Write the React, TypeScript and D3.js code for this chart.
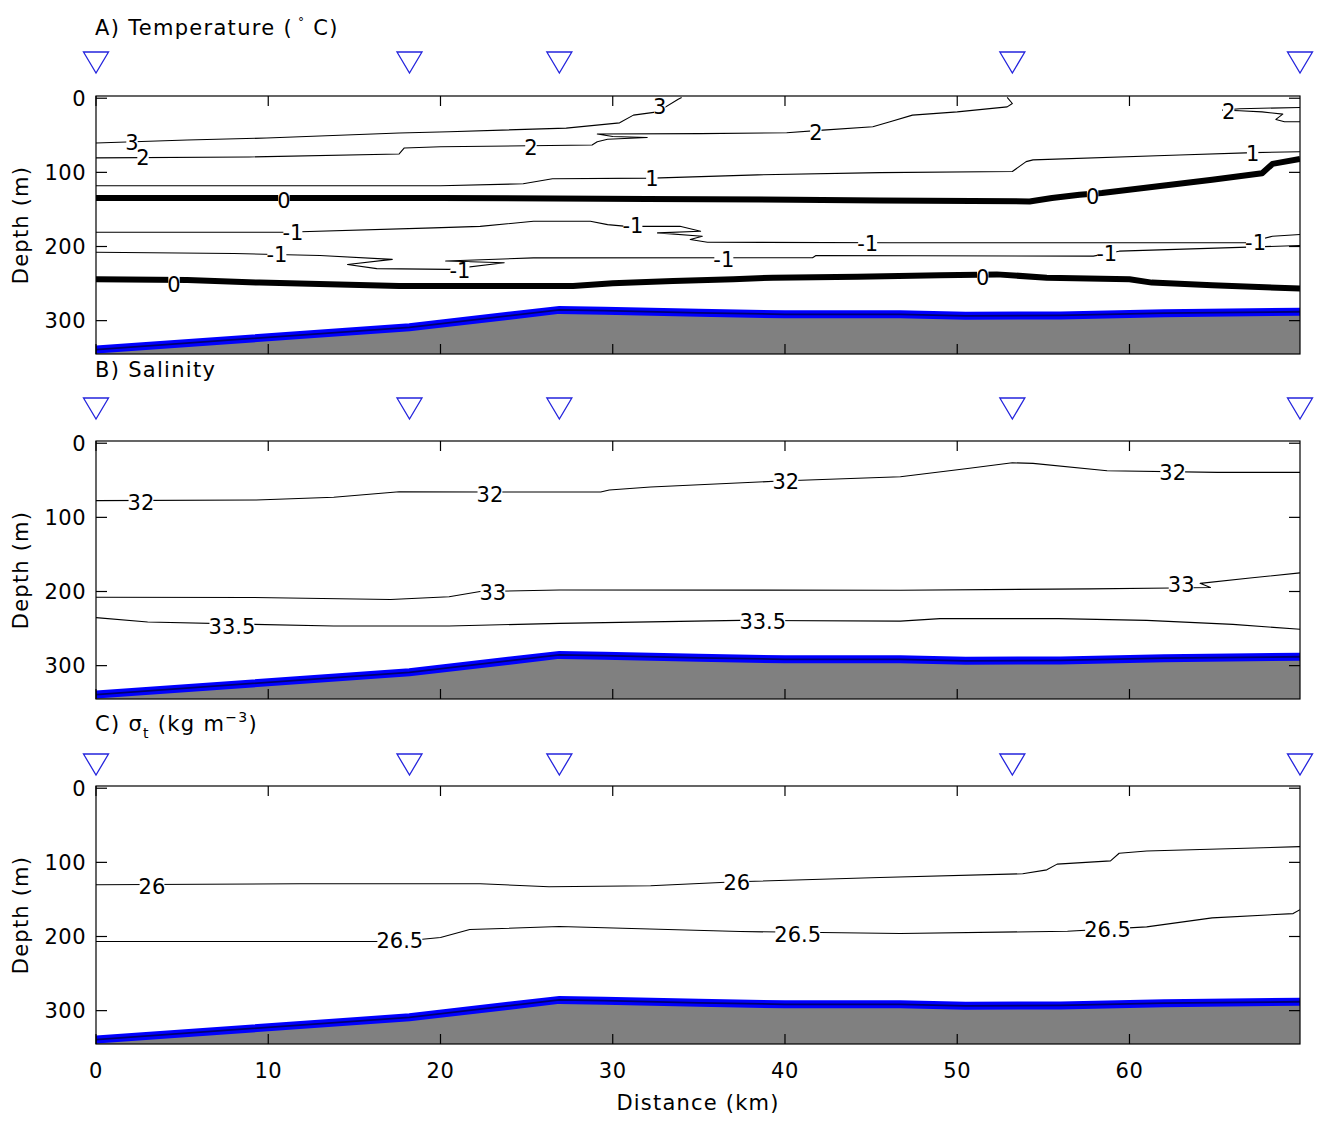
import React from 'react';
import * as d3 from 'd3';

const W = 1317, H = 1121;
const X0 = 96, X1 = 1300;
const KM_MAX = 69.9;
const DEPTH_MIN = -3, DEPTH_MAX = 345;
const PANEL_H = 258;
const panelTops = [96, 441, 786];
const triangleTops = [52, 398, 754];
const titleBaselines = [35, 377, 731];

const FONT = "'DejaVu Sans', Arial, sans-serif";

const xTicks = [0, 10, 20, 30, 40, 50, 60];
const yTicks = [0, 100, 200, 300];
const stations = [0, 18.2, 26.9, 53.2, 69.9];

// Bathymetry (distance km, depth m)
const bathyKm = [0, 18.2, 26.9, 29.5, 35, 40, 46.7, 50.5, 56, 62, 69.9];
const bathyDepth = [339, 309, 285.5, 286.5, 289.5, 291.5, 291.5, 293.5, 293, 290, 288];

// ---- A) Temperature contours [km, depth]
const temp3 = [[0, 60.4], [5.3, 56.4], [9.9, 53.7], [17.6, 47], [20.5, 45.2], [27.3, 40.3], [30.4, 33.2], [31.2, 22.8], [32.6, 18.4], [33.8, 1.3], [34.0, -1]];
const temp2a = [[0, 80.5], [8.9, 79.2], [17.6, 75.2], [17.9, 67.1], [20, 65.4], [28.8, 63.1], [29.1, 58.7], [29.7, 55.4], [32, 53], [30, 51.7], [29.1, 48.3], [35.1, 47.7], [40.1, 46.6], [42.2, 43], [45.1, 38.5], [46.1, 31.8], [47.4, 22.8], [50, 18.4], [52.9, 11.7], [53.2, 7.1], [52.9, -1]];
const temp2b = [[69.9, 12.5], [66.4, 14.1], [65.4, 16.1], [66.4, 16.8], [67.7, 18.4], [68.9, 21.5], [68.5, 28.6], [69, 31.8], [69.9, 31.8]];
const temp1 = [[0, 118.1], [20, 118.1], [24.8, 115.4], [26.5, 108.7], [32.3, 107.8], [38.4, 103.4], [45.5, 100.3], [53.2, 98.9], [54, 85.5], [54.4, 83.2], [62.9, 76.5], [67.2, 73.4], [69.9, 72.1]];
const temp0a = [[0, 134.6], [20, 134.6], [32, 136], [40.5, 136.9], [45.5, 137.9], [54.2, 139.2], [55.5, 134.6], [57.1, 130.2], [58.4, 127.9], [64.8, 110.1], [67.7, 101.1], [68.3, 88.6], [69.9, 81.9]];
const tempM1a = [[0, 180.8], [10.9, 180.8], [19.6, 174.9], [22.3, 172.8], [25.4, 166], [28.7, 166], [29.7, 170.5], [30.8, 172.8], [33.9, 172.8], [35.1, 179.5], [32.6, 181.6], [35.2, 186.2], [34.5, 190.6], [35.5, 194.2], [46.1, 195], [66.8, 195], [68.3, 186.2], [69.9, 183.9]];
const tempM1b = [[0, 207.7], [8, 209.4], [13, 212.1], [17.2, 217.4], [14.6, 224.2], [16.3, 229.9], [20.5, 230.9], [23.7, 221.9], [20.3, 219.5], [25.4, 215.4], [41.6, 215.2], [41.8, 212.1], [57.9, 213], [59.4, 206.3], [69.9, 198.7]];
const temp0b = [[0, 244.3], [5.3, 245.2], [9.5, 248.7], [17.6, 253.3], [27.7, 253.3], [30, 249.7], [33.5, 246.6], [37, 244.3], [39.3, 242], [44.2, 240.7], [49, 238.9], [52.3, 237.6], [55.2, 242], [60, 244.3], [61.3, 248.7], [64.8, 252.3], [69.9, 256.8]];

const tempLabels = [
  ['3', 2.09, 59.1], ['2', 2.73, 79.3], ['3', 32.73, 11.2], ['2', 25.25, 65.8], ['2', 41.79, 45.6], ['2', 65.76, 17.3],
  ['1', 32.27, 107.6], ['1', 67.15, 73.9], ['0', 10.91, 137.3], ['0', 57.86, 131.9], ['0', 4.53, 250.6], ['0', 51.48, 241.8],
  ['-1', 11.43, 180.5], ['-1', 10.5, 210.1], ['-1', 31.17, 171], ['-1', 21.13, 231.7], ['-1', 36.45, 216.9], ['-1', 44.8, 195.3],
  ['-1', 58.68, 208.8], ['-1', 67.32, 193.9],
];

// ---- B) Salinity contours
const sal32 = [[0, 77.4], [9.3, 76.5], [13.8, 72.9], [17.6, 65.4], [22.9, 65.8], [29.3, 65.8], [29.8, 63], [32.2, 59], [39.7, 51], [46.7, 45.2], [50.6, 34], [53.2, 26.4], [54.4, 27.2], [58.7, 37.2], [65.1, 39.3], [69.9, 39.3]];
const sal33 = [[0, 207.7], [8.9, 208], [17.1, 210.7], [20.5, 207.1], [22.3, 200], [26.9, 198], [46.7, 198.3], [57.7, 196.4], [62.5, 195.2], [64.7, 194.6], [64.1, 189], [67, 181.8], [69.9, 174.9]];
const sal335 = [[0, 235.3], [3, 241.2], [13.8, 246.6], [20.5, 246.6], [26.9, 243], [37.4, 239], [46.7, 239.9], [49, 236.6], [55.9, 236.6], [61, 238.9], [66, 244.3], [69.9, 251]];
const salLabels = [
  ['32', 2.61, 80], ['32', 22.87, 68.5], ['32', 40.05, 51.0], ['32', 62.51, 39.0],
  ['33', 23.04, 201.1], ['33', 63.0, 189.9], ['33.5', 7.89, 246.6], ['33.5', 38.71, 240.8],
];

// ---- C) Sigma-t contours
const sig26 = [[0, 130.2], [11.8, 128.9], [22.3, 128.9], [26.3, 132.9], [32.2, 131.5], [37.2, 126.2], [45.5, 120.4], [53.8, 115.4], [55.2, 110.1], [55.8, 102.4], [58.9, 98], [59.4, 87.7], [61, 84.6], [69.9, 78.8]];
const sig265 = [[0, 206.7], [17.6, 206.7], [20, 201.3], [21.7, 190.6], [26.9, 186.6], [37.4, 193.3], [46.7, 196], [56.4, 192.9], [61, 187], [64.8, 174.9], [69.5, 169.1], [69.9, 163.8]];
const sigLabels = [
  ['26', 3.25, 131.9], ['26', 37.2, 126.5], ['26.5', 17.64, 204.7], ['26.5', 40.74, 196.6], ['26.5', 58.73, 190.8],
];

const panels = [
  { contours: [[temp3, 1.1], [temp2a, 1.1], [temp2b, 1.1], [temp1, 1.1], [temp0a, 6], [tempM1a, 1.1], [tempM1b, 1.1], [temp0b, 6]], labels: tempLabels },
  { contours: [[sal32, 1.1], [sal33, 1.1], [sal335, 1.1]], labels: salLabels },
  { contours: [[sig26, 1.1], [sig265, 1.1]], labels: sigLabels },
];

const x = d3.scaleLinear().domain([0, KM_MAX]).range([X0, X1]);

function labelWidth(t: string) {
  let w = 0;
  for (const c of t) w += c === '-' ? 7.6 : c === '.' ? 6.7 : 13.4;
  return w;
}

function Title({ i }: { i: number }) {
  const yb = titleBaselines[i];
  const common = { x: 95, y: yb, fontFamily: FONT, fontSize: 21, letterSpacing: 1.3, fill: '#000' } as any;
  if (i === 0)
    return (
      <text {...common}>
        A) Temperature (
        <tspan dy={-9} fontSize={12}>  °</tspan>
        <tspan dy={9}>  C)</tspan>
      </text>
    );
  if (i === 1) return <text {...common}>B) Salinity</text>;
  return (
    <text {...common}>
      C) σ<tspan dy={7} fontSize={14}>t</tspan>
      <tspan dy={-7}> (kg m</tspan>
      <tspan dy={-9} fontSize={14}>−3</tspan>
      <tspan dy={9}>)</tspan>
    </text>
  );
}

function Panel({ i }: { i: number }) {
  const top = panelTops[i];
  const bottom = top + PANEL_H;
  const y = d3.scaleLinear().domain([DEPTH_MIN, DEPTH_MAX]).range([top, bottom]);
  const line = d3.line<number[]>().x((d) => x(d[0])).y((d) => y(d[1]));
  const bathy = bathyKm.map((k, j) => [k, bathyDepth[j]]);
  const area = d3.area<number[]>().x((d) => x(d[0])).y0(y(DEPTH_MAX) + 5).y1((d) => y(d[1]));
  const p = panels[i];
  const triTop = triangleTops[i];
  return (
    <g>
      <defs>
        <clipPath id={`clip${i}`}>
          <rect x={X0} y={top} width={X1 - X0} height={PANEL_H} />
        </clipPath>
      </defs>
      <Title i={i} />
      {stations.map((s, j) => {
        const cx = x(s);
        return (
          <path key={j} d={`M${cx - 12.5},${triTop}L${cx + 12.5},${triTop}L${cx},${triTop + 21}Z`} fill="none" stroke="#2424dd" strokeWidth={1.3} />
        );
      })}
      <g clipPath={`url(#clip${i})`}>
        {p.contours.map(([pts, w]: any, j: number) => (
          <path key={j} d={line(pts) as string} fill="none" stroke="#000" strokeWidth={w} strokeLinejoin="round" />
        ))}
        <path d={area(bathy) as string} fill="#808080" />
        <path d={line(bathy) as string} fill="none" stroke="#0000ff" strokeWidth={8} />
        <path d={line(bathy) as string} fill="none" stroke="#000070" strokeWidth={1.8} />
        {p.labels.map(([t, k, dep]: any, j: number) => {
          const lw = labelWidth(t);
          return (
            <g key={j}>
              <rect x={x(k) - lw / 2 + 1} y={y(dep) - 8} width={lw - 2} height={16} fill="#fff" />
              <text x={x(k)} y={y(dep)} dy="0.36em" textAnchor="middle" fontFamily={FONT} fontSize={21} fill="#000">
                {t}
              </text>
            </g>
          );
        })}
      </g>
      <rect x={X0} y={top} width={X1 - X0} height={PANEL_H} fill="none" stroke="#000" strokeWidth={1.2} />
      {xTicks.map((t) => (
        <g key={t}>
          <line x1={x(t)} x2={x(t)} y1={top} y2={top + 10} stroke="#000" strokeWidth={1.2} />
          <line x1={x(t)} x2={x(t)} y1={bottom} y2={bottom - 10} stroke="#000" strokeWidth={1.2} />
          {i === 2 && (
            <text x={x(t)} y={bottom + 34} textAnchor="middle" fontFamily={FONT} fontSize={21} letterSpacing={0.5} fill="#000">
              {t}
            </text>
          )}
        </g>
      ))}
      {yTicks.map((t) => (
        <g key={t}>
          <line x1={X0} x2={X0 + 11} y1={y(t)} y2={y(t)} stroke="#000" strokeWidth={1.2} />
          <line x1={X1} x2={X1 - 11} y1={y(t)} y2={y(t)} stroke="#000" strokeWidth={1.2} />
          <text x={86} y={y(t)} dy="0.36em" textAnchor="end" fontFamily={FONT} fontSize={21} letterSpacing={0.5} fill="#000">
            {t}
          </text>
        </g>
      ))}
      <text transform={`translate(28,${(top + bottom) / 2}) rotate(-90)`} textAnchor="middle" fontFamily={FONT} fontSize={21} letterSpacing={1.2} fill="#000">
        Depth (m)
      </text>
      {i === 2 && (
        <text x={(X0 + X1) / 2} y={1110} textAnchor="middle" fontFamily={FONT} fontSize={21} letterSpacing={1.2} fill="#000">
          Distance (km)
        </text>
      )}
    </g>
  );
}

export default function App() {
  return (
    <svg width={W} height={H} style={{ position: 'absolute', left: 0, top: 0, background: '#fff' }}>
      <rect width={W} height={H} fill="#fff" />
      {[0, 1, 2].map((i) => (
        <Panel key={i} i={i} />
      ))}
    </svg>
  );
}
